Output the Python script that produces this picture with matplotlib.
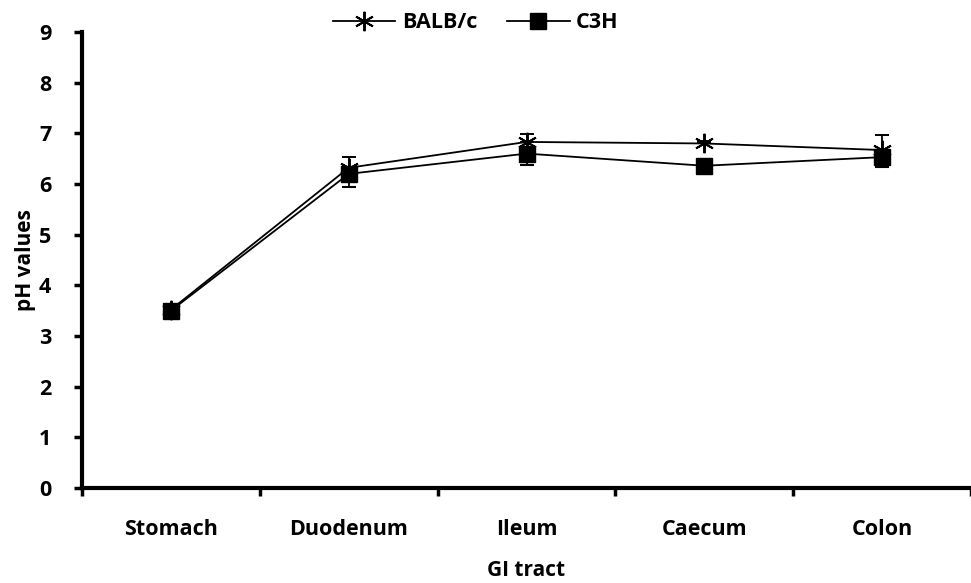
import matplotlib
matplotlib.use("Agg")
import matplotlib.pyplot as plt
from matplotlib.lines import Line2D
import numpy as np

plt.rcParams['font.family'] = ['Open Sans', 'DejaVu Sans']
plt.rcParams['font.weight'] = 'bold'

sites = ["Stomach", "Duodenum", "Ileum", "Caecum", "Colon"]
balb = [3.52, 6.32, 6.83, 6.80, 6.67]
balb_err = [0.12, 0.22, 0.15, 0.05, 0.30]
c3h = [3.50, 6.20, 6.60, 6.36, 6.53]
c3h_err = [0.12, 0.25, 0.22, 0.05, 0.20]

fig = plt.figure(figsize=(9.71, 5.83), dpi=100)
ax = fig.add_axes([82 / 971, 1 - 488 / 583, 1 - 82 / 971, (488 - 32) / 583])

x = np.arange(len(sites))
star = (6, 2, 0)

ax.errorbar(x, balb, yerr=[np.zeros(len(x)), balb_err], color='black', lw=1.3,
            marker=star, ms=14, mew=1.4, capsize=5, capthick=1.5,
            elinewidth=1.3, zorder=3)
ax.errorbar(x, c3h, yerr=[c3h_err, np.zeros(len(x))], color='black', lw=1.3,
            marker='s', ms=11, capsize=5, capthick=1.5,
            elinewidth=1.3, zorder=4)

ax.set_xlim(-0.5, 4.45)
ax.set_ylim(0, 9)
ax.set_yticks(range(10))
ax.set_xticks(x)
ax.set_xticklabels(sites)
ax.set_xticks(np.arange(-0.5, 4.6, 1), minor=True)
ax.tick_params(axis='x', which='major', length=0, pad=22, labelsize=15.5)
ax.tick_params(axis='x', which='minor', length=6, width=2.5)
ax.tick_params(axis='y', length=6, width=2.5, labelsize=15.5, pad=16)

for s in ['top', 'right']:
    ax.spines[s].set_visible(False)
for s in ['left', 'bottom']:
    ax.spines[s].set_linewidth(3)

ax.set_ylabel('pH values', fontsize=15, fontweight='bold', labelpad=2)
ax.set_xlabel('GI tract', fontsize=15, fontweight='bold', labelpad=15)

for lbl in ax.get_xticklabels() + ax.get_yticklabels():
    lbl.set_fontweight('bold')

handles = [
    Line2D([], [], color='black', lw=1.3, marker=star, ms=14, mew=1.4),
    Line2D([], [], color='black', lw=1.3, marker='s', ms=11),
]
ax.legend(handles, ['BALB/c', 'C3H'], loc='center', bbox_to_anchor=(0.443, 1.02),
          ncol=2, frameon=False, prop={'size': 15.5, 'weight': 'bold'},
          handlelength=2.9, columnspacing=1.4, handletextpad=0.3)

fig.savefig('out.png', dpi=100)
